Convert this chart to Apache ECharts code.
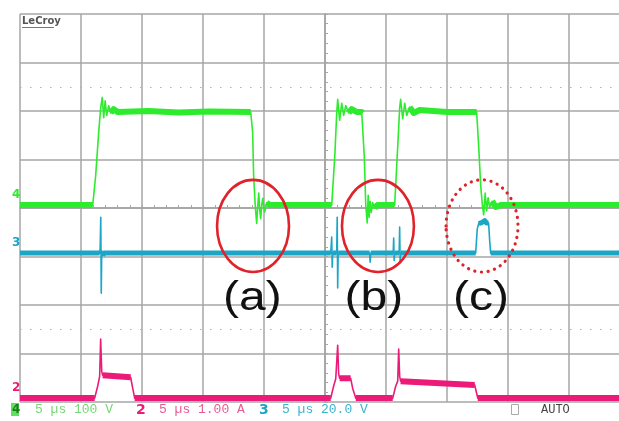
<!DOCTYPE html>
<html><head><meta charset="utf-8">
<script src="https://cdn.jsdelivr.net/npm/echarts@6/dist/echarts.min.js"></script>
<style>html,body{margin:0;padding:0;background:#fff}#c{width:619px;height:421px}</style>
</head><body><div id="c"></div>
<script>
// ---- scope settings ----
const T0 = 25;          // trigger position: µs from the left edge of the screen
const DIV_T = 5;        // µs per division
const refLevels = [2.5, -2.5];   // dotted reference levels (divisions)

// ---- channel 4 (green), 100 V/div ----
const ch4Scale = 100, ch4Offset = 0.06;
const ch4_t = [0, 5.96, 6.20, 6.45, 6.61, 6.74, 6.86, 6.98, 7.11, 7.27, 7.43, 7.68, 8.01, 10.5, 13.0, 15.5, 18.91,
  19.07, 19.15, 19.28, 19.40, 19.48, 19.57, 19.65, 19.73, 19.81, 19.90, 19.98, 20.06, 20.22, 20.47,
  25.55, 25.80, 25.96, 26.04, 26.20, 26.37, 26.53, 26.70, 26.94, 27.19, 27.6, 28.01, 28.09, 28.22, 28.34,
  28.46, 28.54, 28.62, 28.70, 28.79, 28.91, 29.08, 29.3,
  30.71, 30.96, 31.12, 31.20, 31.37, 31.53, 31.70, 31.94, 32.27, 32.76, 35.0, 37.43, 37.60, 37.76, 37.90,
  38.01, 38.13, 38.25, 38.37, 38.50, 38.70, 39.0, 39.4, 50];
const ch4_v = [0, 0, 60, 150, 200, 222, 180, 215, 185, 205, 190, 198, 192, 194, 191, 193, 192,
  150, 60, 0, -38, -5, 25, -10, -28, 0, 14, -5, -14, 5, 0,
  0, 100, 190, 218, 175, 210, 185, 205, 190, 198, 192, 192, 190, 100, 0,
  -37, 20, -25, 8, -15, 5, -6, 0,
  0, 120, 200, 218, 178, 210, 185, 202, 190, 196, 192, 192, 120, 40, 0,
  -20, 25, -12, 15, -5, 8, -4, 0, 0];

// ---- channel 3 (cyan), 20 V/div ----
const ch3Scale = 20, ch3Offset = -0.93;
const ch3_t = [0, 6.53, 6.57, 6.62, 6.66, 6.70, 6.78, 6.9,
  25.47, 25.55, 25.59, 25.63, 25.96, 26.00, 26.04, 26.08, 28.66, 28.70, 28.75,
  30.59, 30.63, 30.67, 30.71, 31.08, 31.12, 31.16, 31.20,
  37.35, 37.48, 37.60, 37.84, 38.09, 38.24, 38.41, 38.50, 38.58, 50];
const ch3_v = [0, 0, 2, 14.8, -16.5, 1, -1, 0,
  0, 6.6, -5.8, 0, 0, 14.8, -14.4, 0, 0, -3.7, 0,
  0, 6.2, -3, 0, 0, 10.7, -4, 0,
  0, 10, 12.2, 12.6, 13.4, 12.4, 12.4, 5, 0, 0];

// ---- channel 2 (pink), 1.00 A/div ----
const ch2Scale = 1, ch2Offset = -3.92;
const ch2_t = [0, 6.12, 6.37, 6.53, 6.61, 6.70, 6.78, 7.35, 9.07, 9.24, 9.40,
  25.47, 25.71, 25.88, 26.04, 26.12, 26.20, 27.10, 27.27, 27.52,
  30.55, 30.80, 30.96, 31.04, 31.12, 31.20, 37.27, 37.43, 37.52, 50];
const ch2_v = [0, 0, 0.25, 0.45, 1.22, 0.55, 0.47, 0.46, 0.43, 0.2, 0,
  0, 0.25, 0.4, 1.09, 0.5, 0.41, 0.41, 0.2, 0,
  0, 0.25, 0.35, 1.01, 0.45, 0.35, 0.27, 0.1, 0, 0];

// ---- annotations (µs from trigger, divisions) ----
const annoLabels = ['(a)', '(b)', '(c)'];
const annoT = [-5.90, 4.34, 12.87];
const annoDiv = [-0.37, -0.37, -0.37];
const annoRT = 2.95, annoRDiv = 0.95;
const annoDotted = [false, false, true];
const labelT = [-5.95, 4.0, 12.79];
const labelDiv = -1.88;

const GREEN = '#2deb2d', CYAN = '#1ca6c6', PINK = '#ec1a78', GRID = '#a6a6a6';

function toDiv(ts, vs, scale, off) { return ts.map((t, i) => [t - T0, vs[i] / scale + off]); }
function bandOnly(pts) {
  const out = []; let last = -2;
  for (let i = 0; i < pts.length - 1; i++) {
    const a = pts[i], b = pts[i + 1];
    const slope = Math.abs(b[1] - a[1]) / ((b[0] - a[0]) / DIV_T);
    if (slope < 2.5) {
      if (last !== i) { if (out.length) out.push([a[0], '-']); out.push(a); }
      out.push(b); last = i + 1;
    }
  }
  return out;
}
const g4 = toDiv(ch4_t, ch4_v, ch4Scale, ch4Offset);
const g3 = toDiv(ch3_t, ch3_v, ch3Scale, ch3Offset);
const g2 = toDiv(ch2_t, ch2_v, ch2Scale, ch2Offset);

function trace(data, color, w, z) {
  return { type: 'line', data, symbol: 'none', showSymbol: false, connectNulls: false, animation: false,
    lineStyle: { color, width: w, join: 'round' }, z, silent: true };
}

const chart = echarts.init(document.getElementById('c'));
const axisCommon = { type: 'value', axisLabel: { show: false } };
chart.setOption({
  animation: false,
  backgroundColor: '#fff',
  grid: { left: 20, top: 14, width: 610, height: 388, outerBoundsMode: 'none', containLabel: false },
  xAxis: [
    Object.assign({}, axisCommon, { min: -25, max: 25, interval: 5,
      splitLine: { show: true, lineStyle: { color: GRID, width: 1.5 } },
      axisLine: { show: true, onZero: true, lineStyle: { color: GRID, width: 1.5 } },
      axisTick: { show: true, inside: true, length: 3, lineStyle: { color: GRID } },
      minorTick: { show: true, splitNumber: 5, length: 3, lineStyle: { color: GRID, width: 1 } } }),
    Object.assign({}, axisCommon, { min: -25, max: 25, interval: 5,
      splitLine: { show: false },
      axisLine: { show: true, onZero: true, lineStyle: { color: GRID, width: 1.5 } },
      axisTick: { show: true, inside: false, length: 3, lineStyle: { color: GRID } },
      minorTick: { show: true, splitNumber: 5, length: 3, lineStyle: { color: GRID, width: 1 } } })
  ],
  yAxis: [
    Object.assign({}, axisCommon, { min: -4, max: 4, interval: 1,
      splitLine: { show: true, lineStyle: { color: GRID, width: 1.5 } },
      axisLine: { show: true, onZero: true, lineStyle: { color: GRID, width: 1.5 } },
      axisTick: { show: true, inside: true, length: 3, lineStyle: { color: GRID } },
      minorTick: { show: true, splitNumber: 5, length: 3, lineStyle: { color: GRID, width: 1 } } }),
    Object.assign({}, axisCommon, { min: -4, max: 4, interval: 1,
      splitLine: { show: false },
      axisLine: { show: true, onZero: true, lineStyle: { color: GRID, width: 1.5 } },
      axisTick: { show: true, inside: false, length: 3, lineStyle: { color: GRID } },
      minorTick: { show: true, splitNumber: 5, length: 3, lineStyle: { color: GRID, width: 1 } } })
  ],
  series: [
    Object.assign(trace(bandOnly(g2), PINK, 6, 3), {
      markLine: { silent: true, symbol: 'none', label: { show: false },
        lineStyle: { color: '#b0b0b0', type: [1.5, 8.5], width: 1.2 },
        data: refLevels.map(v => ({ yAxis: v })) } }),
    trace(g2, PINK, 1.6, 4),
    trace(bandOnly(g3), CYAN, 5, 5),
    trace(g3, CYAN, 1.6, 6),
    trace(bandOnly(g4), GREEN, 6, 7),
    trace(g4, GREEN, 1.6, 8)
  ]
});

function px(t, d) { return chart.convertToPixel({ xAxisIndex: 0, yAxisIndex: 0 }, [t, d]); }
const graphics = [];
annoLabels.forEach((lab, i) => {
  const c = px(annoT[i], annoDiv[i]);
  const r = px(annoT[i] + annoRT, annoDiv[i] + annoRDiv);
  graphics.push({ type: 'ellipse', z: 100, silent: true,
    shape: { cx: c[0], cy: c[1], rx: r[0] - c[0], ry: c[1] - r[1] },
    style: annoDotted[i]
      ? { fill: 'none', stroke: '#e0222a', lineWidth: 3.2, lineDash: [0.1, 6.6], lineCap: 'round' }
      : { fill: 'none', stroke: '#e0222a', lineWidth: 2.6 } });
  const l = px(labelT[i], labelDiv);
  graphics.push({ type: 'text', z: 100, x: l[0], y: l[1], scaleX: 1.2, silent: true,
    style: { text: lab, font: '40px "Liberation Sans", Arial, sans-serif', fill: '#111',
      textAlign: 'center', textVerticalAlign: 'middle' } });
});
// channel markers on the left edge
[[ch4Offset, '4', GREEN], [ch3Offset, '3', CYAN], [ch2Offset, '2', PINK]].forEach(m => {
  const p = px(-25, m[0]);
  graphics.push({ type: 'text', z: 100, x: 12, y: p[1] - 10, silent: true,
    style: { text: m[1], font: 'bold 12px "DejaVu Sans", sans-serif', fill: m[2], textVerticalAlign: 'middle' } });
});
// LeCroy logo
graphics.push({ type: 'text', z: 100, x: 22, y: 21, silent: true,
  style: { text: 'LeCroy', font: 'bold 10px "DejaVu Sans", sans-serif', fill: '#555', textVerticalAlign: 'middle' } });
graphics.push({ type: 'rect', z: 100, silent: true, shape: { x: 22, y: 27, width: 32, height: 1 }, style: { fill: '#777' } });
// status bar
const mono = '13px "Liberation Mono", "DejaVu Sans Mono", monospace';
graphics.push({ type: 'rect', z: 100, silent: true, shape: { x: 11, y: 403, width: 8, height: 13 }, style: { fill: '#5fe05f' } });
graphics.push({ type: 'text', z: 101, x: 12, y: 410, silent: true, style: { text: '4', font: 'bold 12px "DejaVu Sans", sans-serif', fill: '#1d7d1d', textVerticalAlign: 'middle' } });
graphics.push({ type: 'text', z: 100, x: 35, y: 410, silent: true, style: { text: '5 µs 100 V', font: mono, fill: '#74d874', textVerticalAlign: 'middle' } });
graphics.push({ type: 'text', z: 100, x: 136, y: 410, silent: true, style: { text: '2', font: 'bold 14px "DejaVu Sans", sans-serif', fill: PINK, textVerticalAlign: 'middle' } });
graphics.push({ type: 'text', z: 100, x: 159, y: 410, silent: true, style: { text: '5 µs 1.00 A', font: mono, fill: '#e85a95', textVerticalAlign: 'middle' } });
graphics.push({ type: 'text', z: 100, x: 259, y: 410, silent: true, style: { text: '3', font: 'bold 14px "DejaVu Sans", sans-serif', fill: CYAN, textVerticalAlign: 'middle' } });
graphics.push({ type: 'text', z: 100, x: 282, y: 410, silent: true, style: { text: '5 µs 20.0 V', font: mono, fill: '#3ab4cf', textVerticalAlign: 'middle' } });
graphics.push({ type: 'rect', z: 100, silent: true, shape: { x: 511.5, y: 404.5, width: 7, height: 10 }, style: { fill: 'none', stroke: '#aaa', lineWidth: 1 } });
graphics.push({ type: 'text', z: 100, x: 541, y: 410, silent: true, style: { text: 'AUTO', font: '12px "Liberation Mono", "DejaVu Sans Mono", monospace', fill: '#444', textVerticalAlign: 'middle' } });
chart.setOption({ graphic: graphics });
</script></body></html>
